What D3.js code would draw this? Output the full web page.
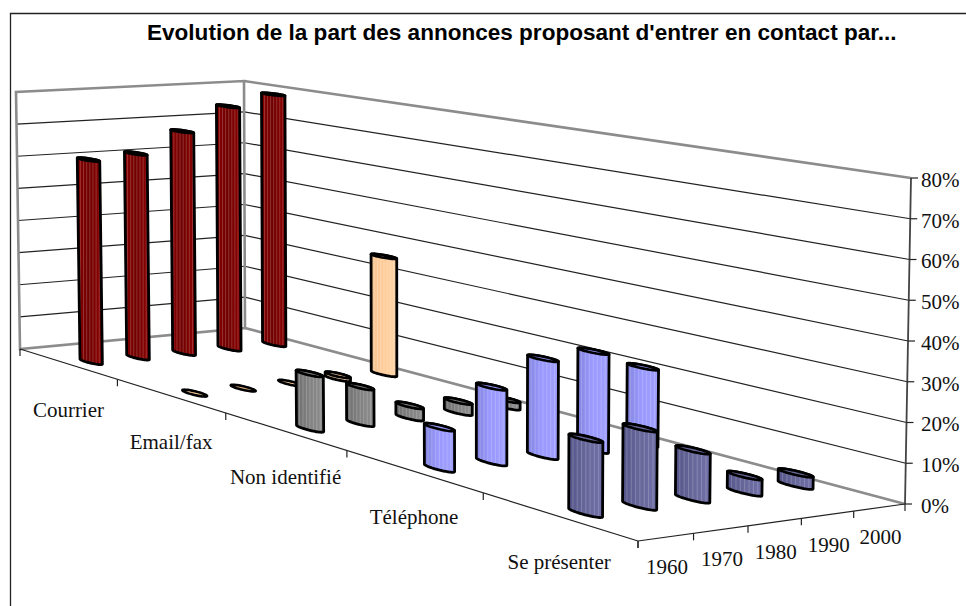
<!DOCTYPE html>
<html>
<head>
<meta charset="utf-8">
<script src="https://cdn.jsdelivr.net/npm/d3@7"></script>
<style>
  html, body { margin: 0; padding: 0; background: #fff; }
  svg { display: block; }
</style>
</head>
<body>
<svg id="chart" width="966" height="606"></svg>
<script>
const categories = ["Courrier", "Email/fax", "Non identifié", "Téléphone", "Se présenter"];
const years = ["1960", "1970", "1980", "1990", "2000"];
const valueTicks = [0, 10, 20, 30, 40, 50, 60, 70, 80];

// part des annonces en %
const courrier = [61.5, 62.5, 68.5, 75.5, 78.5];
const emailFax = [0, 0, 0, 1, 35];
const nonIdentifie = [15, 10, 3.3, 3, 2];
const telephone = [10.5, 19.5, 25.5, 26, 20.5];
const sePresenter = [18, 19, 12, 4, 3];

const seriesValues = [courrier, emailFax, nonIdentifie, telephone, sePresenter];
const seriesColors = [
    ["#880000", "#700000", "#8c0000"],
    ["#f5c492", "#ffcc99", "#ffd3a6"],
    ["#6e6e6e", "#808080", "#8e8e8e"],
    ["#8383de", "#9999ff", "#a0a0ff"],
    ["#55558a", "#666699", "#7070a8"]
];

const svg = d3.select("#chart");
const defs = svg.append("defs");

// 3D box corners measured on the image: floor and top of the walls
// order: (u0,v0) (u1,v0) (u1,v1) (u0,v1)
const floorQuad = [[20, 349], [638, 541], [905, 504], [245, 328]];
const topQuad = [[16, 92], [640, 198], [911, 178], [244, 81]];

function homography(q) {
    const [p0, p1, p2, p3] = q;
    const dx1 = p1[0] - p2[0], dx2 = p3[0] - p2[0], sx = p0[0] - p1[0] + p2[0] - p3[0];
    const dy1 = p1[1] - p2[1], dy2 = p3[1] - p2[1], sy = p0[1] - p1[1] + p2[1] - p3[1];
    const det = dx1 * dy2 - dx2 * dy1;
    const g = (sx * dy2 - dx2 * sy) / det;
    const h = (dx1 * sy - sx * dy1) / det;
    const a = p1[0] - p0[0] + g * p1[0], b = p3[0] - p0[0] + h * p3[0];
    const d = p1[1] - p0[1] + g * p1[1], e = p3[1] - p0[1] + h * p3[1];
    return (u, v) => {
        const w = g * u + h * v + 1;
        return [(a * u + b * v + p0[0]) / w, (d * u + e * v + p0[1]) / w];
    };
}

const floorMap = homography(floorQuad);
const topMap = homography(topQuad);

// u = along categories, v = along years, z = value
const uScale = d3.scaleBand().domain(categories).range([0, 1]);
const vScale = d3.scaleBand().domain(years).range([0, 1]);
const zScale = d3.scaleLinear().domain([0, 80]).range([0, 1]);

function project(u, v, value) {
    const a = floorMap(u, v), b = topMap(u, v), z = zScale(value);
    return [a[0] + (b[0] - a[0]) * z, a[1] + (b[1] - a[1]) * z];
}

const line = d3.line();
const closed = d3.line().curve(d3.curveLinearClosed);

// chart frame, only top and left are in the picture
svg.append("path")
    .attr("d", "M10.5,606V13.5H966")
    .attr("fill", "none")
    .attr("stroke", "#222")
    .attr("stroke-width", 1.3);

svg.append("text")
    .attr("x", 147)
    .attr("y", 39.5)
    .attr("font-family", "'Liberation Sans', Arial, sans-serif")
    .attr("font-weight", "bold")
    .attr("font-size", 22.55)
    .attr("fill", "#000")
    .text("Evolution de la part des annonces proposant d'entrer en contact par...");

// gridlines on both walls
const grid = svg.append("g").attr("stroke", "#222").attr("stroke-width", 1.2).attr("fill", "none");
grid.selectAll("path.left")
    .data(valueTicks.filter(d => d > 0 && d < 80))
    .enter().append("path")
    .attr("class", "left")
    .attr("d", d => line([project(0, 0, d), project(0, 1, d)]));
grid.selectAll("path.right")
    .data(valueTicks.filter(d => d > 0 && d < 80))
    .enter().append("path")
    .attr("class", "right")
    .attr("d", d => line([project(0, 1, d), project(1, 1, d)]));

// walls
const walls = svg.append("g").attr("stroke", "#8c8c8c").attr("stroke-width", 2.6).attr("fill", "none");
walls.append("path").attr("d", closed([project(0, 0, 0), project(0, 0, 80), project(0, 1, 80), project(0, 1, 0)]));
walls.append("path").attr("d", line([project(0, 1, 80), project(1, 1, 80)]));
walls.append("path").attr("d", line([project(0, 1, 0), project(1, 1, 0)]));

// axes
const axes = svg.append("g").attr("stroke", "#222").attr("stroke-width", 1.2).attr("fill", "none");
axes.append("path").attr("d", line([project(0, 0, 0), project(1, 0, 0)]));
axes.append("path").attr("d", line([project(1, 0, 0), project(1, 1, 0)]));
axes.append("path")
    .attr("stroke", "#444")
    .attr("stroke-width", 1.8)
    .attr("d", line([project(1, 1, 0), project(1, 1, 80)]));

axes.selectAll("path.cat-tick")
    .data(d3.range(categories.length + 1))
    .enter().append("path")
    .attr("class", "cat-tick")
    .attr("d", i => {
        const p = project(i / categories.length, 0, 0);
        return line([p, [p[0], p[1] + 7]]);
    });
axes.selectAll("path.year-tick")
    .data(d3.range(years.length + 1))
    .enter().append("path")
    .attr("class", "year-tick")
    .attr("d", i => {
        const p = project(1, i / years.length, 0);
        return line([p, [p[0], p[1] + 7]]);
    });
axes.selectAll("path.value-tick")
    .data(valueTicks)
    .enter().append("path")
    .attr("class", "value-tick")
    .attr("d", d => {
        const p = project(1, 1, d);
        return line([p, [p[0] + 7, p[1]]]);
    });

// labels
const labels = svg.append("g")
    .attr("font-family", "'Liberation Serif', 'Times New Roman', serif")
    .attr("font-size", 21)
    .attr("fill", "#111");

labels.selectAll("text.cat")
    .data(categories)
    .enter().append("text")
    .attr("class", "cat")
    .attr("text-anchor", "middle")
    .attr("x", d => project(uScale(d) + uScale.bandwidth() / 2, 0, 0)[0] + 1)
    .attr("y", d => project(uScale(d) + uScale.bandwidth() / 2, 0, 0)[1] + 46)
    .attr("dy", "0.33em")
    .text(d => d);

labels.selectAll("text.year")
    .data(years)
    .enter().append("text")
    .attr("class", "year")
    .attr("text-anchor", "middle")
    .attr("x", d => project(1, vScale(d) + vScale.bandwidth() / 2, 0)[0] + 1)
    .attr("y", d => project(1, vScale(d) + vScale.bandwidth() / 2, 0)[1] + 30)
    .attr("dy", "0.33em")
    .text(d => d);

labels.selectAll("text.value")
    .data(valueTicks)
    .enter().append("text")
    .attr("class", "value")
    .attr("x", 921)
    .attr("y", d => project(1, 1, d)[1] + 2)
    .attr("dy", "0.33em")
    .text(d => d + "%");

// one gradient per series
seriesColors.forEach((c, i) => {
    const grad = defs.append("linearGradient").attr("id", "grad" + i);
    grad.append("stop").attr("offset", "0%").attr("stop-color", c[0]);
    grad.append("stop").attr("offset", "45%").attr("stop-color", c[1]);
    grad.append("stop").attr("offset", "100%").attr("stop-color", c[2]);
});

// cylinders, drawn from the back row to the front row
const radiusU = 0.0205, radiusV = 0.021;

function ring(u, v, value) {
    return d3.range(48).map(k => {
        const t = k / 48 * 2 * Math.PI;
        return project(u + radiusU * Math.cos(t), v + radiusV * Math.sin(t), value);
    });
}

const bars = svg.append("g");
categories.forEach((cat, i) => {
    years.forEach((year, j) => {
        const value = seriesValues[i][j];
        const u = uScale(cat) + uScale.bandwidth() / 2;
        const v = vScale(year) + vScale.bandwidth() / 2;
        const bottom = ring(u, v, 0), top = ring(u, v, value);
        const g = bars.append("g");
        const hull = d3.polygonHull(bottom.concat(top));

        if (value > 0) {
            const id = "clip" + i + "_" + j;
            defs.append("clipPath").attr("id", id).append("path").attr("d", closed(hull));
            g.append("path")
                .attr("d", closed(hull))
                .attr("fill", "url(#grad" + i + ")");

            const xr = d3.extent(hull, d => d[0]);
            const yr = d3.extent(hull, d => d[1]);
            g.append("g")
                .attr("clip-path", "url(#" + id + ")")
                .attr("stroke", "#fff")
                .attr("stroke-opacity", 0.2)
                .attr("stroke-width", 1)
                .selectAll("path")
                .data(d3.range(1, 8))
                .enter().append("path")
                .attr("d", f => {
                    const x = xr[0] + (xr[1] - xr[0]) * f / 8;
                    return line([[x, yr[0]], [x, yr[1]]]);
                });

            g.append("path")
                .attr("d", closed(hull))
                .attr("fill", "none")
                .attr("stroke", "#000")
                .attr("stroke-width", 2.8)
                .attr("stroke-linejoin", "round");
        }

        g.append("path")
            .attr("d", closed(top))
            .attr("fill", seriesColors[i][1])
            .attr("stroke", "#000")
            .attr("stroke-width", 2.6);
    });
});
</script>
</body>
</html>
